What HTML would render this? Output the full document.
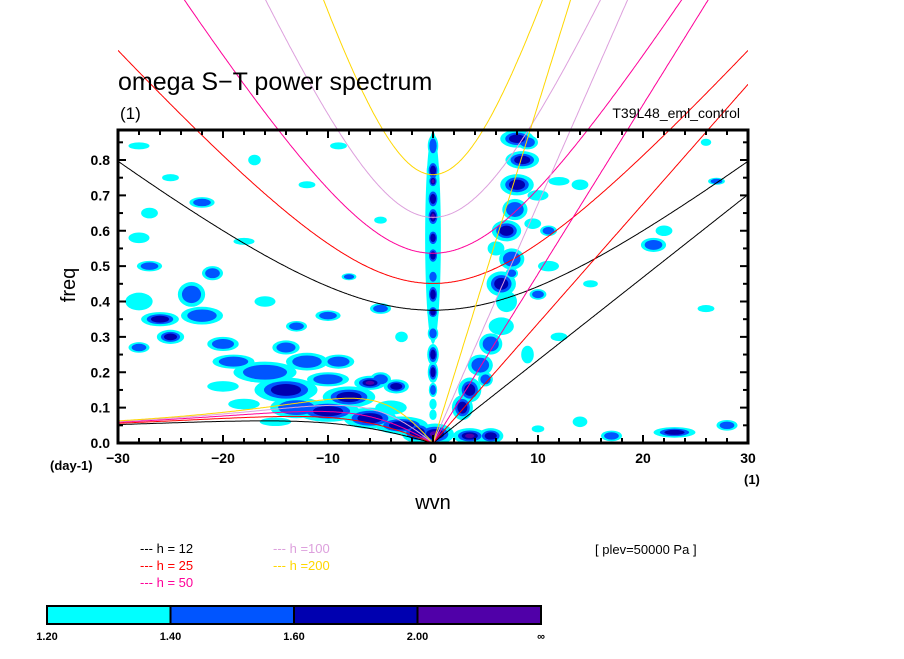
<!DOCTYPE html>
<html><head><meta charset="utf-8"><style>
body{margin:0;background:#fff;width:904px;height:654px;overflow:hidden}
svg{font-family:"Liberation Sans",sans-serif}
</style></head><body>
<svg id="chart" width="904" height="654" viewBox="0 0 904 654" xmlns="http://www.w3.org/2000/svg">
<defs><clipPath id="plotclip"><rect x="118" y="130" width="630" height="313"/></clipPath>
<clipPath id="lineclip"><rect x="118" y="0" width="630" height="443"/></clipPath></defs>
<g id="fills" clip-path="url(#plotclip)"></g>
<g id="curves" clip-path="url(#lineclip)"></g>
<g id="axes"></g>
<text x="118" y="90" font-size="25">omega S−T power spectrum</text>
<text x="120" y="119" font-size="17">(1)</text>
<text x="740" y="118" font-size="14" text-anchor="end">T39L48_eml_control</text>
<text x="75" y="285" font-size="20" text-anchor="middle" transform="rotate(-90 75 285)">freq</text>
<text x="433" y="509" font-size="20" text-anchor="middle">wvn</text>
<text x="50" y="470" font-size="13" font-weight="bold">(day-1)</text>
<text x="744" y="484" font-size="13" font-weight="bold">(1)</text>
<text x="595" y="554" font-size="13">[ plev=50000 Pa ]</text>
<g id="legend"></g>
<g id="cbar"></g>
</svg>
<script>
const NS="http://www.w3.org/2000/svg";
const depths=[12,25,50,100,200];
const depthColors=["#000000","#ff0000","#ff0099","#dda0dd","#ffd700"];
const xTicks=[-30,-20,-10,0,10,20,30];
const yTicks=[0,0.1,0.2,0.3,0.4,0.5,0.6,0.7,0.8];
const levels=["1.20","1.40","1.60","2.00","∞"];
const levelColors=["#00ffff","#0055ff","#0000b0","#5000a8"];
// blobs: [wavenumber, freq, rx(wvn), ry(freq), level]
const blobs=[
[0,0.58,0.75,0.3,0],[0,0.84,0.5,0.03,1],[0,0.77,0.6,0.03,2],[0,0.74,0.5,0.02,3],[0,0.69,0.6,0.03,2],[0,0.64,0.6,0.03,3],[0,0.58,0.55,0.025,2],[0,0.53,0.55,0.025,2],[0,0.47,0.5,0.02,1],[0,0.42,0.55,0.03,2],[0,0.37,0.55,0.02,2],[0,0.31,0.5,0.02,1],[0,0.25,0.55,0.03,2],[0,0.2,0.5,0.03,2],[0,0.15,0.4,0.02,1],[0,0.11,0.35,0.015,0],[0,0.08,0.35,0.015,0],
[0.2,0.025,1.8,0.03,3],[3.5,0.02,1.6,0.022,3],[5.5,0.02,1.2,0.022,2],[-1.5,0.03,1.5,0.03,2],
[2.8,0.1,1,0.035,2],[3.5,0.15,1.1,0.035,2],[4.5,0.22,1.2,0.03,1],[5.5,0.28,1.1,0.03,1],[6.5,0.33,1.2,0.025,0],[5,0.18,0.7,0.02,1],[7,0.4,1,0.03,0],
[6.5,0.45,1.4,0.035,2],[7.5,0.52,1.2,0.03,1],[7,0.6,1.4,0.03,2],[7.8,0.66,1.2,0.03,1],[8,0.73,1.6,0.03,2],[8.5,0.8,1.6,0.025,2],[8,0.86,1.6,0.025,2],[9,0.85,1,0.02,1],[10,0.7,1,0.015,0],[11,0.6,0.8,0.015,1],[12,0.74,1,0.012,0],[11,0.5,1,0.015,0],[10,0.42,0.8,0.015,1],[12,0.3,0.8,0.012,0],[9,0.25,0.6,0.025,0],[6,0.55,0.8,0.02,0],[9.5,0.62,0.8,0.015,0],[7.5,0.48,0.6,0.015,1],
[-3,0.05,2.5,0.025,2],[-6,0.07,2.5,0.03,2],[-10,0.09,3,0.03,2],[-13,0.1,2.5,0.03,1],[-8,0.13,2.5,0.03,2],[-6,0.17,1.5,0.02,3],[-3.5,0.16,1.2,0.02,2],[-14,0.15,3,0.035,2],[-10,0.18,2,0.02,1],[-16,0.2,3,0.03,1],[-12,0.23,2,0.025,1],[-19,0.23,2,0.02,1],[-9,0.23,1.5,0.02,1],[-5,0.18,1,0.02,1],[-18,0.11,1.5,0.015,0],[-20,0.16,1.5,0.015,0],[-4,0.1,1.5,0.02,0],[-15,0.06,1.5,0.012,0],
[-25,0.3,1.3,0.02,2],[-20,0.28,1.5,0.02,1],[-14,0.27,1.3,0.02,1],[-28,0.27,1,0.015,1],[-22,0.36,2,0.025,1],[-26,0.35,1.8,0.02,2],[-23,0.42,1.3,0.035,1],[-28,0.4,1.3,0.025,0],[-13,0.33,1,0.015,1],[-16,0.4,1,0.015,0],[-10,0.36,1.2,0.015,1],
[-27,0.5,1.2,0.015,1],[-21,0.48,1,0.02,1],[-28,0.58,1,0.015,0],[-18,0.57,1,0.01,0],[-27,0.65,0.8,0.015,0],[-22,0.68,1.2,0.015,1],[-25,0.75,0.8,0.01,0],[-28,0.84,1,0.01,0],[-12,0.73,0.8,0.01,0],[-5,0.63,0.6,0.01,0],[-8,0.47,0.7,0.01,1],[-5,0.38,1,0.015,1],[-3,0.3,0.6,0.015,0],[-17,0.8,0.6,0.015,0],[-9,0.84,0.8,0.01,0],
[21,0.56,1.2,0.02,1],[22,0.6,0.8,0.015,0],[27,0.74,0.8,0.01,1],[26,0.85,0.5,0.01,0],[14,0.73,0.8,0.015,0],[15,0.45,0.7,0.01,0],[23,0.03,2,0.015,2],[28,0.05,1,0.015,1],[17,0.02,1,0.015,1],[14,0.06,0.7,0.015,0],[10,0.04,0.6,0.01,0],[26,0.38,0.8,0.01,0]
];
const X0=118,X1=748,Y0=443,PY=353.75;
const xs=k=>X0+(k+30)/60*(X1-X0);
const ys=f=>Y0-f*PY;
function mk(tag,attrs,parent){const e=document.createElementNS(NS,tag);for(const a in attrs)e.setAttribute(a,attrs[a]);parent.appendChild(e);return e;}
const fills=document.getElementById('fills');
const scales=[1,0.7,0.48,0.28];
for(let L=0;L<4;L++){for(const b of blobs){if(b[4]<L)continue;
const e=mk('ellipse',{cx:xs(b[0]),cy:ys(b[1]),rx:b[2]*10.5*scales[L],ry:b[3]*PY*scales[L],fill:levelColors[L]},fills);

}}
const g=9.81,beta=2.29e-11,a=6.371e6,conv=86400/(2*Math.PI);
const curves=document.getElementById('curves');
depths.forEach((h,i)=>{const c=Math.sqrt(g*h);let kel=[],ig=[],ros=[];
for(let s=0;s<=600;s++){const k=-30+s*0.1,kk=k/a;
ig.push([k,Math.sqrt(3*beta*c+c*c*kk*kk)*conv]);
if(k>=0)kel.push([k,c*kk*conv]);
if(k<=0)ros.push([k,-beta*kk/(kk*kk+3*beta/c)*conv]);}
for(const [pts,nm] of [[kel,'kelvin'],[ig,'inertia-gravity'],[ros,'rossby']]){
const p=mk('polyline',{points:pts.map(q=>xs(q[0]).toFixed(1)+','+ys(q[1]).toFixed(1)).join(' '),fill:'none',stroke:depthColors[i],'stroke-width':1},curves);

}});
const ax=document.getElementById('axes');
mk('rect',{x:X0,y:130,width:X1-X0,height:Y0-130,fill:'none',stroke:'#000','stroke-width':3},ax);
for(let k=-30;k<=30;k+=2){const L=(k%10===0)?8:5;
mk('line',{x1:xs(k),x2:xs(k),y1:Y0,y2:Y0-L,stroke:'#000','stroke-width':2},ax);
mk('line',{x1:xs(k),x2:xs(k),y1:130,y2:130+L,stroke:'#000','stroke-width':2},ax);}
for(let j=0;j<=17;j++){const f=j*0.05,L=(j%2===0)?8:5;
mk('line',{x1:X0,x2:X0+L,y1:ys(f),y2:ys(f),stroke:'#000','stroke-width':2},ax);
mk('line',{x1:X1,x2:X1-L,y1:ys(f),y2:ys(f),stroke:'#000','stroke-width':2},ax);}
xTicks.forEach(k=>{const t=mk('text',{x:xs(k),y:463,'font-size':14,'font-weight':'bold','text-anchor':'middle'},ax);t.textContent=(k<0?'−':'')+Math.abs(k);

});
yTicks.forEach(f=>{const t=mk('text',{x:110,y:ys(f)+5,'font-size':14,'font-weight':'bold','text-anchor':'end'},ax);t.textContent=f.toFixed(1);

});
const lg=document.getElementById('legend');
const pos=[[140,553],[140,570],[140,587],[273,553],[273,570]];
depths.forEach((h,i)=>{const [x,y]=pos[i];
const t=mk('text',{x:x,y:y,'font-size':13,fill:depthColors[i]},lg);
t.textContent='--- h '+(h>=100?'=':'= ')+h;

});
const cb=document.getElementById('cbar');const bw=(541-47)/4;
levelColors.forEach((c,i)=>{const r=mk('rect',{x:47+i*bw,y:606,width:bw,height:18,fill:c,stroke:'#000','stroke-width':2},cb);

});
levels.forEach((l,i)=>{const t=mk('text',{x:47+i*bw,y:640,'font-size':11,'font-weight':'bold','text-anchor':'middle'},cb);t.textContent=l;

});
</script>
</body></html>
